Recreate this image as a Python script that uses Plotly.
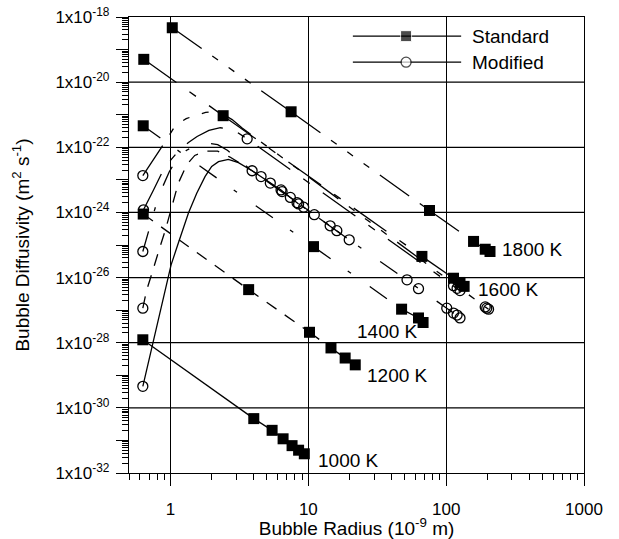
import math
import plotly.graph_objects as go

# ---------------- data (radius in 1e-9 m, log10 of diffusivity in m^2/s) ----------------
temps = ["1000 K", "1200 K", "1400 K", "1600 K", "1800 K"]

# Standard model (filled squares)
std_r_1000 = [0.63, 4.02, 5.46, 6.56, 7.62, 8.50, 9.35]
std_d_1000 = [-27.91, -30.33, -30.69, -30.95, -31.16, -31.30, -31.41]
std_r_1200 = [0.634, 3.69, 10.2, 14.6, 18.5, 21.9]
std_d_1200 = [-24.05, -26.37, -27.68, -28.16, -28.47, -28.68]
std_r_1400 = [0.634, 10.9, 47.5, 63.0, 68.0]
std_d_1400 = [-21.34, -25.05, -26.97, -27.24, -27.38]
std_r_1600 = [0.64, 2.41, 66.7, 113, 126, 135]
std_d_1600 = [-19.30, -21.03, -25.35, -26.02, -26.15, -26.27]
std_r_1800 = [1.03, 7.5, 75.7, 158, 192, 208]
std_d_1800 = [-18.33, -20.91, -23.94, -24.89, -25.13, -25.20]

# Modified model: curves
mod_curve_r_1000 = [0.63, 0.74, 0.86, 1.01, 1.14, 1.35, 1.55, 1.78, 1.99, 2.23, 2.63, 3.11, 3.91,
                    4.54, 5.30, 6.34, 7.41, 8.28, 8.50]
mod_curve_d_1000 = [-29.34, -28.10, -26.90, -25.61, -24.94, -24.02, -23.41, -22.90, -22.59, -22.44,
                    -22.37, -22.47, -22.72, -22.90, -23.10, -23.31, -23.54, -23.70, -23.74]
mod_curve_r_1200 = [0.63, 0.67, 0.73, 0.79, 0.84, 0.92, 1.05, 1.14, 1.31, 1.5, 1.8, 2.2, 2.7, 3.3,
                    3.91, 6.45, 9.25, 11.05, 14.4, 16.1, 19.8]
mod_curve_d_1200 = [-26.94, -26.40, -25.90, -25.40, -25.05, -24.53, -23.61, -23.10, -22.54, -22.25,
                    -22.12, -22.12, -22.30, -22.52, -22.72, -23.36, -23.84, -24.07, -24.41, -24.56,
                    -24.84]
mod_curve_r_1400 = [0.63, 0.68, 0.73, 0.80, 0.88, 0.98, 1.12, 1.30, 1.55, 1.85, 2.2, 2.6, 3.1, 3.6,
                    3.91, 19.8, 52, 63, 101, 113, 120, 126]
mod_curve_d_1400 = [-25.20, -24.70, -24.20, -23.65, -23.20, -22.75, -22.35, -22.10, -21.93, -21.87,
                    -21.92, -22.10, -22.38, -22.60, -22.72, -24.84, -26.07, -26.34, -26.94, -27.09,
                    -27.15, -27.24]
mod_curve_r_1600 = [0.637, 0.70, 0.753, 0.865, 1.0, 1.15, 1.35, 1.56, 1.9, 2.3, 2.88, 3.6, 126]
mod_curve_d_1600 = [-23.92, -23.60, -23.31, -22.79, -22.40, -22.10, -21.85, -21.67, -21.48, -21.40,
                    -21.47, -21.74, -26.40]
mod_curve_r_1800 = [0.63, 0.75, 0.84, 0.905, 1.087, 1.3, 1.52, 1.8, 2.05, 2.4, 2.8, 3.31, 192, 197, 203]
mod_curve_d_1800 = [-22.87, -22.40, -22.07, -21.86, -21.33, -21.12, -21.02, -20.93, -20.90, -20.98,
                    -21.15, -21.41, -26.90, -26.94, -26.97]

# Modified model: open-circle points
mod_pts_r_1000 = [0.63, 3.91, 4.54, 5.30, 6.34, 7.41, 8.28, 8.50]
mod_pts_d_1000 = [-29.34, -22.72, -22.90, -23.10, -23.31, -23.54, -23.70, -23.74]
mod_pts_r_1200 = [0.63, 6.45, 9.25, 11.05, 14.4, 16.1, 19.8]
mod_pts_d_1200 = [-26.94, -23.36, -23.84, -24.07, -24.41, -24.56, -24.84]
mod_pts_r_1400 = [0.63, 52, 63, 101, 113, 120, 126]
mod_pts_d_1400 = [-25.20, -26.07, -26.34, -26.94, -27.09, -27.15, -27.24]
mod_pts_r_1600 = [0.637, 3.6, 113, 120, 126]
mod_pts_d_1600 = [-23.92, -21.74, -26.25, -26.33, -26.40]
mod_pts_r_1800 = [0.63, 192, 197, 203]
mod_pts_d_1800 = [-22.87, -26.90, -26.94, -26.97]

# Temperature labels
label_r = [11.4, 25.9, 21.9, 165, 246]
label_d = [-31.61, -29.00, -27.65, -26.37, -25.15]

# axis ticks
x_ticks = [1, 10, 100, 1000]
y_decades = list(range(-32, -17))
y_label_decades = [-32, -30, -28, -26, -24, -22, -20, -18]

# ---------------- styles ----------------
dash_by_temp = {
    "1000 K": "solid",
    "1200 K": "12px,10px",
    "1400 K": "21px,21px,4px,23px",
    "1600 K": "40px,16px,8px,16px",
    "1800 K": "36px,13px,7px,13px,7px,13px,7px,13px",
}
std_r = [std_r_1000, std_r_1200, std_r_1400, std_r_1600, std_r_1800]
std_d = [std_d_1000, std_d_1200, std_d_1400, std_d_1600, std_d_1800]
mc_r = [mod_curve_r_1000, mod_curve_r_1200, mod_curve_r_1400, mod_curve_r_1600, mod_curve_r_1800]
mc_d = [mod_curve_d_1000, mod_curve_d_1200, mod_curve_d_1400, mod_curve_d_1600, mod_curve_d_1800]
mp_r = [mod_pts_r_1000, mod_pts_r_1200, mod_pts_r_1400, mod_pts_r_1600, mod_pts_r_1800]
mp_d = [mod_pts_d_1000, mod_pts_d_1200, mod_pts_d_1400, mod_pts_d_1600, mod_pts_d_1800]

LW = 1.3
fig = go.Figure()

# horizontal grid lines at even decades
gx, gy = [], []
for e in y_label_decades[1:-1]:
    gx += [0.5, 1000, None]
    gy += [10.0 ** e, 10.0 ** e, None]
fig.add_trace(go.Scatter(x=gx, y=gy, mode="lines", line=dict(color="black", width=1.3),
                         hoverinfo="skip", showlegend=False))

for i, t in enumerate(temps):
    dash = dash_by_temp[t]
    # modified curve
    fig.add_trace(go.Scatter(x=mc_r[i], y=[10.0 ** v for v in mc_d[i]], mode="lines",
                             line=dict(color="black", width=LW, dash=dash), showlegend=False))
    # standard lines, segment by segment
    rr, dd = std_r[i], std_d[i]
    for k in range(len(rr) - 1):
        fig.add_trace(go.Scatter(x=rr[k:k + 2], y=[10.0 ** v for v in dd[k:k + 2]], mode="lines",
                                 line=dict(color="black", width=LW, dash=dash), showlegend=False))

for i, t in enumerate(temps):
    fig.add_trace(go.Scatter(x=mp_r[i], y=[10.0 ** v for v in mp_d[i]], mode="markers",
                             marker=dict(symbol="circle-open", size=10, color="black",
                                         line=dict(width=1.3, color="black")), showlegend=False))
for i, t in enumerate(temps):
    fig.add_trace(go.Scatter(x=std_r[i], y=[10.0 ** v for v in std_d[i]], mode="markers",
                             marker=dict(symbol="square", size=11, color="black"), showlegend=False))

# manual legend on an overlay axis (paper-like 0..1 coordinates)
leg_y = [0.958, 0.901]
leg_x = [0.492, 0.609, 0.730]
fig.add_trace(go.Scatter(x=leg_x, y=[leg_y[0]] * 3, xaxis="x2", yaxis="y2", mode="lines+markers",
                         line=dict(color="black", width=LW),
                         marker=dict(symbol="square", size=[0, 11, 0], color="black"),
                         showlegend=False))
fig.add_trace(go.Scatter(x=leg_x, y=[leg_y[1]] * 3, xaxis="x2", yaxis="y2", mode="lines+markers",
                         line=dict(color="black", width=LW),
                         marker=dict(symbol="circle", size=[0, 10, 0], color="white",
                                     line=dict(width=1.3, color="black")),
                         showlegend=False))

font_family = "Arial, Liberation Sans, Helvetica, sans-serif"
annotations = []
for txt, lr, ld in zip(temps, label_r, label_d):
    annotations.append(dict(x=math.log10(lr), y=ld, xref="x", yref="y", text=txt, showarrow=False,
                            xanchor="left", yanchor="middle", font=dict(size=19, color="black")))
for txt, yy in zip(["Standard", "Modified"], leg_y):
    annotations.append(dict(x=0.750, y=yy, xref="paper", yref="paper", text=txt, showarrow=False,
                            xanchor="left", yanchor="middle", font=dict(size=19, color="black")))

y_ticktext = [("1x10<sup>%d</sup>" % e) if e in y_label_decades else "" for e in y_decades]
minor_y = [m * 10.0 ** e for e in range(-32, -18) for m in range(2, 10)]
minor_x = [m * 10.0 ** e for e in range(-1, 3) for m in range(2, 10) if m * 10.0 ** e >= 0.5]

fig.update_layout(
    width=619, height=539,
    margin=dict(l=129, r=35, t=17, b=66, autoexpand=False),
    paper_bgcolor="white", plot_bgcolor="white",
    font=dict(family=font_family, size=17, color="black"),
    showlegend=False,
    annotations=annotations,
    shapes=[dict(type="rect", xref="paper", yref="paper", x0=0.481, x1=0.947, y0=0.871, y1=0.978,
                 fillcolor="white", line=dict(width=0), layer="between")],
    xaxis=dict(type="log", range=[math.log10(0.5), 3], tickvals=x_ticks,
               ticktext=[str(v) for v in x_ticks],
               showgrid=True, gridcolor="black", gridwidth=1.3,
               showline=True, linecolor="black", linewidth=1.3, mirror=True,
               ticks="outside", ticklen=12, tickwidth=1.3, tickcolor="black",
               ticklabelstandoff=8, tickfont=dict(size=17),
               minor=dict(tickmode="array", tickvals=minor_x, ticks="outside", ticklen=6,
                          tickwidth=1.3, tickcolor="black", showgrid=False),
               title=dict(text="Bubble Radius (10<sup>-9</sup> m)", standoff=4,
                          font=dict(size=19)),
               zeroline=False, automargin=False),
    yaxis=dict(type="log", range=[-32, -18], tickvals=[10.0 ** e for e in y_decades],
               ticktext=y_ticktext, showgrid=False,
               showline=True, linecolor="black", linewidth=1.3, mirror=True,
               ticks="outside", ticklen=12, tickwidth=1.3, tickcolor="black",
               ticklabelstandoff=3, tickfont=dict(size=17),
               minor=dict(tickmode="array", tickvals=minor_y, ticks="outside", ticklen=6,
                          tickwidth=1.1, tickcolor="black", showgrid=False),
               title=dict(text="Bubble Diffusivity (m<sup>2</sup> s<sup>-1</sup>)", standoff=20,
                          font=dict(size=19)),
               zeroline=False, automargin=False),
    xaxis2=dict(overlaying="x", range=[0, 1], visible=False, fixedrange=True),
    yaxis2=dict(overlaying="y", range=[0, 1], visible=False, fixedrange=True),
)

fig.write_html("out.html")
